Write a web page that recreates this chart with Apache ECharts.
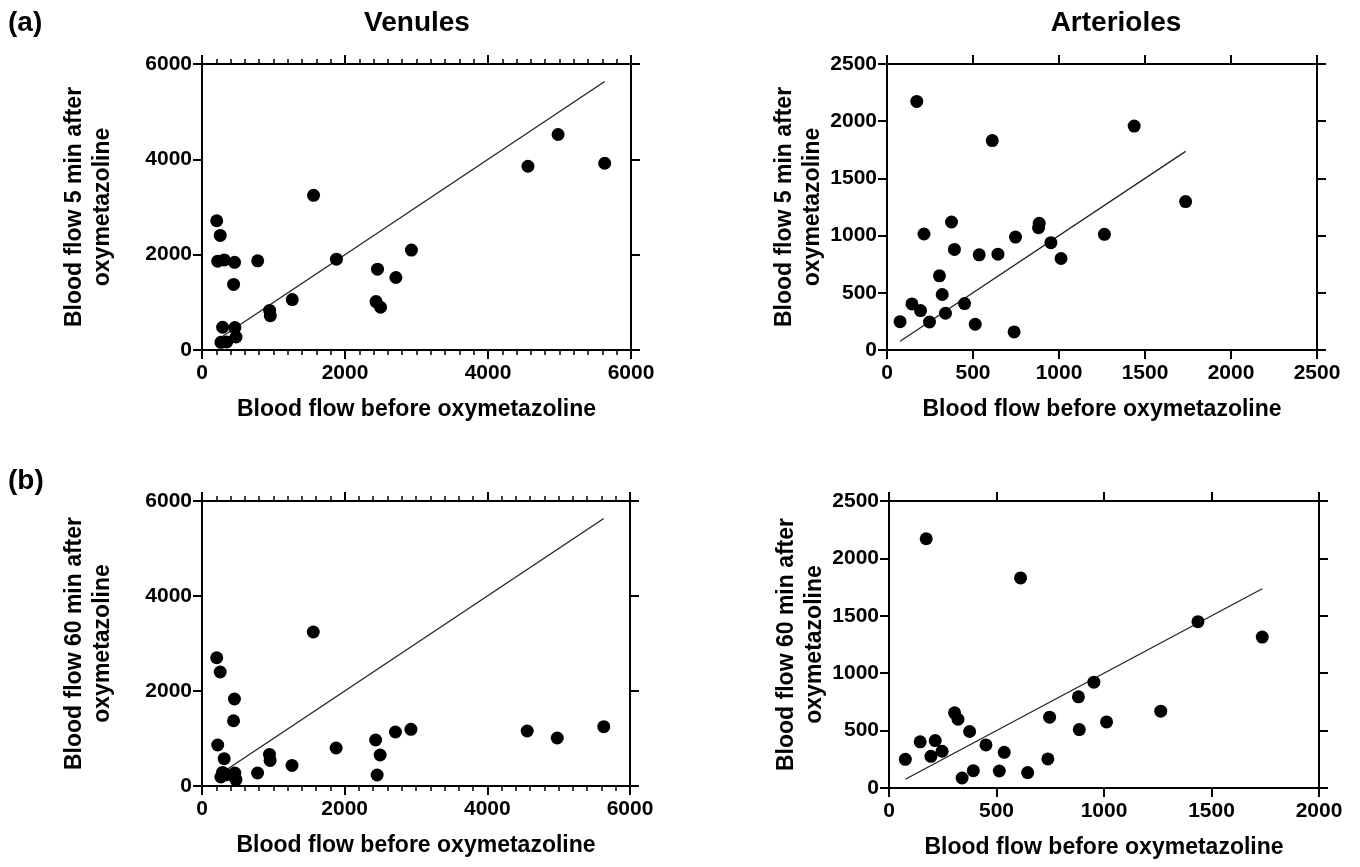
<!DOCTYPE html>
<html>
<head>
<meta charset="utf-8">
<title>Blood flow before / after oxymetazoline</title>
<script src="https://cdn.jsdelivr.net/npm/echarts@6/dist/echarts.min.js"></script>
<style>
  html, body { margin: 0; padding: 0; background: #fff; }
  #chart { width: 1360px; height: 867px; }
</style>
</head>
<body>
<div id="chart"></div>
<script>
  // venules: flow before, 5 min after, 60 min after
  const venBefore = [206, 220, 255, 265, 288, 311, 346, 442, 455, 460, 476, 779, 946, 955, 1262, 1560, 1880, 2434, 2455, 2497, 2712, 2929, 4559, 4980, 5632]
  const ven5 = [2712, 1864, 2404, 160, 477, 1890, 168, 1375, 1840, 470, 273, 1871, 830, 720, 1058, 3245, 1906, 1016, 1696, 897, 1521, 2096, 3855, 4521, 3918]
  const ven60 = [2700, 863, 2400, 189, 286, 575, 238, 1374, 1831, 274, 133, 274, 665, 539, 434, 3242, 800, 968, 232, 653, 1137, 1193, 1158, 1011, 1249]

  // arterioles
  const artBefore = [76, 145, 173, 195, 215, 247, 305, 321, 340, 375, 392, 451, 513, 536, 612, 645, 739, 747, 881, 885, 953, 1012, 1264, 1437, 1736]
  const art5 = [248, 403, 2173, 345, 1014, 245, 648, 485, 321, 1119, 879, 406, 225, 832, 1831, 838, 158, 987, 1069, 1107, 938, 800, 1011, 1957, 1297]
  const art60 = [250, 402, 2171, 276, 413, 320, 655, 599, 87, 492, 151, 375, 148, 311, 1830, 134, 253, 617, 794, 509, 922, 576, 669, 1449, 1315]

  const xName = 'Blood flow before oxymetazoline'
  const yName5 = 'Blood flow 5 min after\noxymetazoline'
  const yName60 = 'Blood flow 60 min after\noxymetazoline'

  const FONT = '"Liberation Sans", Arial, sans-serif'
  const black = '#000'

  // one panel = grid + 4 axes (bottom/top/left/right) + dots + identity line
  let panels = [
    {grid: {left: 202, top: 64, width: 429, height: 286}, before: venBefore, after: ven5, xMax: 6000, xStep: 2000, yMax: 6000, yStep: 2000, minor: true, yName: yName5, yGap: 85},
    {grid: {left: 887, top: 64, width: 430, height: 286}, before: artBefore, after: art5, xMax: 2500, xStep: 500, yMax: 2500, yStep: 500, minor: false, yName: yName5, yGap: 53},
    {grid: {left: 202, top: 501, width: 428, height: 285}, before: venBefore, after: ven60, xMax: 6000, xStep: 2000, yMax: 6000, yStep: 2000, minor: true, yName: yName60, yGap: 85},
    {grid: {left: 889, top: 501, width: 430, height: 287}, before: artBefore, after: art60, xMax: 2000, xStep: 500, yMax: 2500, yStep: 500, minor: false, yName: yName60, yGap: 53}
  ]

  let lineStyle = {color: black, width: 2}
  let label = {color: black, fontFamily: FONT, fontWeight: 'bold', fontSize: 21, formatter: (v) => String(v)}
  let nameStyle = {color: black, fontFamily: FONT, fontWeight: 'bold', fontSize: 23, lineHeight: 28}

  function axis (i, pos, max, step, opts) {
    let a = {
      type: 'value',
      gridIndex: i,
      position: pos,
      min: 0,
      max: max,
      interval: step,
      axisLine: {show: true, onZero: false, lineStyle: lineStyle},
      axisTick: {show: true, inside: false, length: 9, lineStyle: lineStyle},
      splitLine: {show: false},
      axisLabel: {show: false}
    }
    return Object.assign(a, opts || {})
  }

  let grid = [], xAxis = [], yAxis = [], series = []

  panels.forEach((p, i) => {
    grid.push(p.grid)
    let minorTick = {show: p.minor, splitNumber: 10, length: 5, lineStyle: {color: black, width: 1.5}}

    xAxis.push(axis(i, 'bottom', p.xMax, p.xStep, {
      minorTick: minorTick,
      axisLabel: Object.assign({margin: 13}, label),
      name: xName,
      nameLocation: 'middle',
      nameGap: 46,
      nameTextStyle: nameStyle
    }))
    xAxis.push(axis(i, 'top', p.xMax, p.xStep, {minorTick: minorTick}))

    yAxis.push(axis(i, 'left', p.yMax, p.yStep, {
      axisLabel: Object.assign({margin: 10}, label),
      name: p.yName,
      nameLocation: 'middle',
      nameRotate: 90,
      nameGap: p.yGap,
      nameTextStyle: nameStyle
    }))
    yAxis.push(axis(i, 'right', p.yMax, p.yStep))

    let pts = p.before.map((v, k) => [v, p.after[k]])
    let lo = Math.min(...p.before)
    let hi = Math.max(...p.before)

    series.push({
      type: 'scatter',
      xAxisIndex: i * 2,
      yAxisIndex: i * 2,
      symbolSize: 13,
      itemStyle: {color: black, opacity: 1},
      data: pts,
      z: 3
    })
    series.push({
      type: 'line',
      xAxisIndex: i * 2,
      yAxisIndex: i * 2,
      symbol: 'none',
      lineStyle: {color: '#222', width: 1.3},
      data: [[lo, lo], [hi, hi]],
      z: 2
    })
  })

  let titleStyle = {color: black, fontFamily: FONT, fontWeight: 'bold', fontSize: 28}

  let option = {
    animation: false,
    backgroundColor: '#fff',
    title: [
      {text: '(a)', left: 3, top: 4, textStyle: titleStyle},
      {text: 'Venules', left: 412, top: 4, textAlign: 'center', textStyle: titleStyle},
      {text: 'Arterioles', left: 1111, top: 4, textAlign: 'center', textStyle: titleStyle},
      {text: '(b)', left: 3, top: 462, textStyle: titleStyle}
    ],
    grid: grid,
    xAxis: xAxis,
    yAxis: yAxis,
    series: series
  }

  let chart = echarts.init(document.getElementById('chart'))
  chart.setOption(option)
</script>
</body>
</html>
